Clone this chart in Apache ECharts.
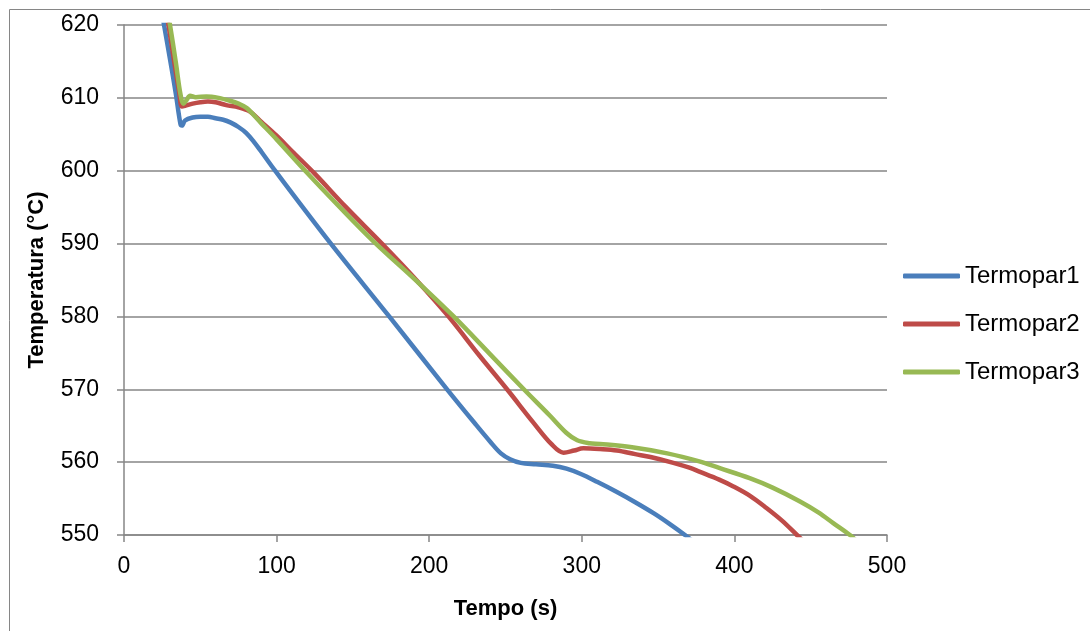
<!DOCTYPE html>
<html>
<head>
<meta charset="utf-8">
<script src="https://cdn.jsdelivr.net/npm/echarts@6/dist/echarts.min.js"></script>
<style>
html,body{margin:0;padding:0;background:#fff;}
#chart{width:1090px;height:631px;}
</style>
</head>
<body>
<div id="chart"></div>
<script>
const seriesNames = ['Termopar1', 'Termopar2', 'Termopar3'];
const xTicks = [0, 100, 200, 300, 400, 500];
const yTicks = [550, 560, 570, 580, 590, 600, 610, 620];

const termopar1 = [
  [20, 627.5], [26, 620.3], [30, 615.5], [34, 610.5], [37, 606.4], [38, 606.2], [40, 606.9],
  [45, 607.3], [50, 607.4], [55, 607.4], [60, 607.2], [65, 607.0], [70, 606.6], [75, 606.0],
  [80, 605.2], [85, 604.0], [90, 602.6], [99, 600.0], [134, 590.4], [173.4, 580.1],
  [211.7, 570.0], [230, 565.3], [240, 562.8], [247, 561.2], [253, 560.4], [260, 559.9],
  [270, 559.7], [281, 559.5], [290, 559.1], [299, 558.4], [310, 557.3], [323, 555.9],
  [335, 554.5], [347, 553.0], [357, 551.6], [367.6, 550.0], [375, 548.8]
];
const termopar2 = [
  [22, 629.0], [29, 620.2], [33, 614.8], [36, 611.0], [38, 608.8], [40, 608.9], [45, 609.2],
  [50, 609.4], [55, 609.5], [60, 609.4], [67, 609.0], [75, 608.7], [82.6, 608.1], [90, 606.7],
  [100, 604.8], [110, 602.7], [124.5, 599.7], [145, 595.1], [169, 590.0], [192, 584.9],
  [212.6, 580.0], [233, 574.6], [251, 570.0], [268, 565.5], [280, 562.5], [288, 561.3],
  [295, 561.6], [301, 561.9], [312, 561.8], [323, 561.6], [335, 561.1], [345, 560.7],
  [360, 559.9], [371, 559.2], [377, 558.7], [390, 557.6], [399, 556.7], [410, 555.4],
  [421, 553.7], [431, 552.0], [441, 550.0], [446, 549.0]
];
const termopar3 = [
  [23, 629.0], [30, 620.2], [34, 614.8], [37, 610.5], [39, 609.2], [41, 609.7], [43.3, 610.3],
  [47, 610.1], [54, 610.2], [62, 610.0], [69.5, 609.6], [75, 609.2], [80.4, 608.6], [90, 606.5],
  [100, 604.3], [118.7, 600.0], [140, 595.3], [163.5, 590.3], [192, 584.8], [216, 580.0],
  [240, 574.8], [262, 570.0], [279, 566.4], [290, 564.0], [297, 563.0], [305, 562.6],
  [312, 562.5], [334, 562.0], [356, 561.2], [377, 560.1], [390, 559.2], [410, 557.8],
  [425, 556.5], [443, 554.6], [455, 553.1], [465, 551.6], [475.7, 550.0], [480, 549.2]
];

const colors = ['#4A7EBB', '#BE4B48', '#98B954'];
const FONT = '"Liberation Sans", Arial, sans-serif';

const lineSeries = (name, data) => ({
  name, type: 'line', data, showSymbol: false, symbol: 'none',
  smooth: 0.35, clip: true,
  lineStyle: {width: 4.5, cap: 'round', join: 'round'}
});

const chart = echarts.init(document.getElementById('chart'), null, {renderer: 'canvas'});
chart.setOption({
  animation: false,
  backgroundColor: '#fff',
  color: colors,
  graphic: [{
    type: 'rect', left: 7, top: 7, silent: true, z: -10,
    shape: {width: 1200, height: 700},
    style: {fill: 'none', stroke: '#868686', lineWidth: 1}
  }],
  grid: {left: 124, right: 203, top: 25, bottom: 96, containLabel: false},
  legend: {
    orient: 'vertical', left: 898, top: 259,
    icon: 'roundRect',
    itemWidth: 57, itemHeight: 5, itemGap: 24,
    textStyle: {fontFamily: FONT, fontSize: 24, color: '#000', lineHeight: 24},
    data: seriesNames
  },
  xAxis: {
    type: 'value', min: xTicks[0], max: xTicks[xTicks.length - 1], interval: 100,
    name: 'Tempo (s)', nameLocation: 'middle', nameGap: 63,
    nameTextStyle: {fontFamily: FONT, fontSize: 22, fontWeight: 'bold', color: '#000'},
    axisLine: {show: true, lineStyle: {color: '#868686', width: 1.5}},
    axisTick: {show: true, inside: false, length: 7, lineStyle: {color: '#868686', width: 1.5}},
    axisLabel: {fontFamily: FONT, fontSize: 23, color: '#000', margin: 20},
    splitLine: {show: false}
  },
  yAxis: {
    type: 'value', min: yTicks[0], max: yTicks[yTicks.length - 1], interval: 10,
    name: 'Temperatura (°C)', nameLocation: 'middle', nameGap: 76,
    nameTextStyle: {fontFamily: FONT, fontSize: 22, fontWeight: 'bold', color: '#000'},
    axisLine: {show: true, lineStyle: {color: '#868686', width: 1.5}},
    axisTick: {show: true, inside: false, length: 7, lineStyle: {color: '#868686', width: 1.5}},
    axisLabel: {fontFamily: FONT, fontSize: 23, color: '#000', margin: 25},
    splitLine: {show: true, lineStyle: {color: '#868686', width: 1.5}}
  },
  series: [
    lineSeries(seriesNames[0], termopar1),
    lineSeries(seriesNames[1], termopar2),
    lineSeries(seriesNames[2], termopar3)
  ]
});
</script>
</body>
</html>
